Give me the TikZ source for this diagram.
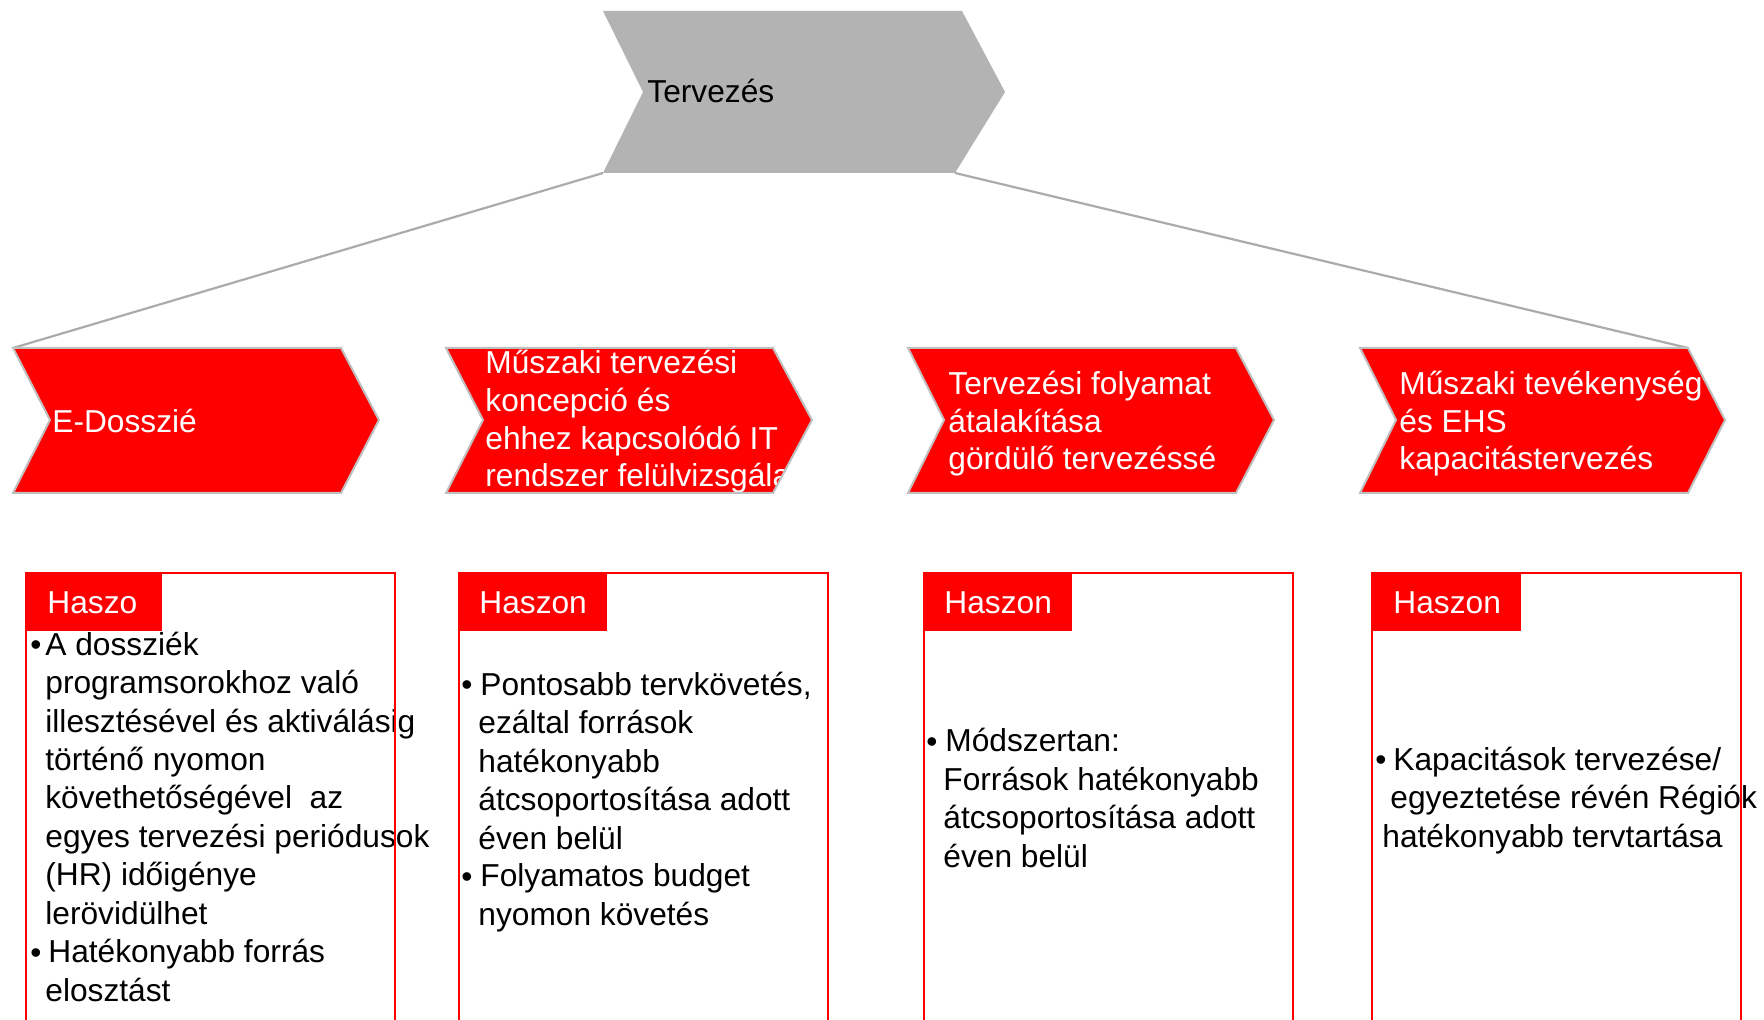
\documentclass[tikz,border=0pt]{standalone}
\usepackage{fontspec}
\setmainfont{Liberation Sans}
\definecolor{chevred}{HTML}{FF0000}
\definecolor{topgray}{HTML}{B3B3B3}
\definecolor{edgegray}{HTML}{BFBFBF}
\definecolor{linkgray}{HTML}{ABABAB}

\begin{document}
\begin{tikzpicture}[x=0.5pt,y=-0.5pt,
  topchev/.style={fill=topgray},
  redchev/.style={fill=chevred},
  chevedge/.style={draw=edgegray,line width=1pt,line join=miter},
  linkline/.style={draw=linkgray,line width=1.1pt},
  benefit/.style={draw=chevred,line width=1pt},
  hdrbox/.style={fill=chevred},
  % multi-line nodes are anchored at the baseline of their last line
  chevtxt/.style={anchor=base west,inner sep=0pt,align=left,
    font=\fontsize{15.85pt}{18.85pt}\selectfont},
  wtxt/.style={chevtxt,text=white},
  bodytxt/.style={anchor=base west,inner sep=0pt,align=left,
    font=\fontsize{15.85pt}{19.2pt}\selectfont,text=black},
]
\path[use as bounding box, clip] (0,0) rectangle (1764,1020);

% top-level process step
\coordinate (T-tl) at (603,11);
\coordinate (T-tr) at (962,11);
\coordinate (T-tip) at (1005,92);
\coordinate (T-br) at (955,173);
\coordinate (T-bl) at (603,173);
\coordinate (T-notch) at (643,92);
\fill[topchev] (T-tl) -- (T-tr) -- (T-tip) -- (T-br) -- (T-bl) -- (T-notch) -- cycle;
\node[chevtxt,text=black] (toptxt) at (647,103) {Tervezés};

% sub-steps
\foreach \n/\l/\r/\p/\q in {1/13/341/379/50, 2/446/773/812/483,
                            3/908/1236/1274/944, 4/1360/1688/1725/1396} {
  \coordinate (C\n-tl) at (\l,348);
  \coordinate (C\n-tr) at (\r,348);
  \coordinate (C\n-tip) at (\p,420);
  \coordinate (C\n-br) at (\r,493);
  \coordinate (C\n-bl) at (\l,493);
  \coordinate (C\n-notch) at (\q,420);
  \fill[redchev] (C\n-tl) -- (C\n-tr) -- (C\n-tip) -- (C\n-br) -- (C\n-bl) -- (C\n-notch) -- cycle;
}

\draw[linkline] (T-bl) -- (C1-tl);
\draw[linkline] (T-br) -- (C4-tr);

\node[wtxt] (c1txt) at (52,433) {E-Dosszié};
\node[wtxt] (c2txt) at (485,487) {Műszaki tervezési\\koncepció és\\ehhez kapcsolódó IT\\rendszer felülvizsgálata};
\node[wtxt] (c3txt) at (948,470) {Tervezési folyamat\\átalakítása\\gördülő tervezéssé};
\node[wtxt] (c4txt) at (1399,470) {Műszaki tevékenység\\és EHS\\kapacitástervezés};

\foreach \n in {1,2,3,4} {
  \draw[chevedge] (C\n-tl) -- (C\n-tr) -- (C\n-tip) -- (C\n-br) -- (C\n-bl) -- (C\n-notch) -- cycle;
}

% benefit panels
\foreach \n/\l/\h in {1/26/162, 2/459/607, 3/924/1072, 4/1372/1521} {
  \fill[hdrbox] (\l,573) rectangle (\h,631);
}
\node[wtxt] (h1) at (47,613) {Haszo};
\node[wtxt] (h2) at (479,613) {Haszon};
\node[wtxt] (h3) at (944,613) {Haszon};
\node[wtxt] (h4) at (1393,613) {Haszon};

\node[bodytxt] (p1a) at (30,655) {•};
\node[bodytxt] (t1a) at (45,924) {A dossziék\\programsorokhoz való\\illesztésével és aktiválásig\\történő nyomon\\követhetőségével~ az\\egyes tervezési periódusok\\(HR) időigénye\\lerövidülhet};
\node[bodytxt] (p1b) at (30,963) {•};
\node[bodytxt] (t1b) at (48,1001) {Hatékonyabb forrás\\\hspace*{-1.5pt}elosztást};

\node[bodytxt] (p2a) at (461,695) {•};
\node[bodytxt] (t2a) at (478,849) {\hspace*{1pt}Pontosabb tervkövetés,\\ezáltal források\\hatékonyabb\\átcsoportosítása adott\\éven belül};
\node[bodytxt] (p2b) at (461,887) {•};
\node[bodytxt] (t2b) at (478,925) {\hspace*{1pt}Folyamatos budget\\nyomon követés};

\node[bodytxt] (p3a) at (926,752) {•};
\node[bodytxt] (t3a) at (943,867) {\hspace*{1pt}Módszertan:\\Források hatékonyabb\\átcsoportosítása adott\\éven belül};

\node[bodytxt] (p4a) at (1375,770) {•};
\node[bodytxt] (t4a) at (1382,847) {\hspace*{5.5pt}Kapacitások tervezése/\\\hspace*{4pt}egyeztetése révén Régiók\\hatékonyabb tervtartása};

\foreach \n/\l in {1/26, 2/459, 3/924, 4/1372} {
  \draw[benefit] (\l,1040) -- (\l,573) -- (\l+369,573) -- (\l+369,1040);
}
\end{tikzpicture}
\end{document}
